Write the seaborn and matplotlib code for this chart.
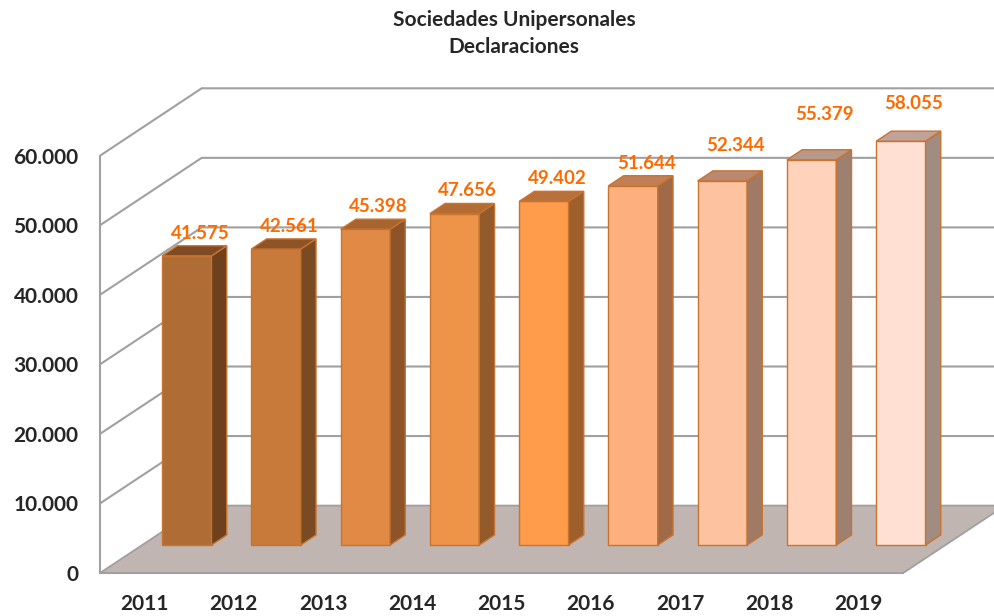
import numpy as np
import seaborn as sns
import matplotlib
matplotlib.use("Agg")
from matplotlib import pyplot as plt
from matplotlib.patches import Polygon

years = ["2011", "2012", "2013", "2014", "2015", "2016", "2017", "2018", "2019"]
declaraciones = [41575, 42561, 45398, 47656, 49402, 51644, 52344, 55379, 58055]
y_ticks = [0, 10000, 20000, 30000, 40000, 50000, 60000]
y_labels = ["0", "10.000", "20.000", "30.000", "40.000", "50.000", "60.000"]

front_colors = ["#b06c35", "#c87a3a", "#e08a45", "#ee9448", "#ff9c4c",
                "#fdb07e", "#fdc3a0", "#ffd3bb", "#ffe0d2"]
side_colors = ["#6e401e", "#7a4a22", "#8c5428", "#935a2a", "#9e5f2c",
               "#a06a48", "#a07a64", "#9e8070", "#a08c80"]
top_colors = ["#7e4b24", "#8e5428", "#a8642e", "#b36c32", "#b8713a",
              "#c07f55", "#b88870", "#b89888", "#c0a298"]
# extra lift (points) of some value labels, as placed in the original
label_lift = [0, 0, 0, 0, 0, 0, 9, 16, 11]

sns.set_style("white")
plt.rcParams["font.family"] = ["Lato", "DejaVu Sans"]

# faux 3D: depth offsets of the back wall in data units
DX = 101.7 / 89.25
DY = 67.4 / 0.006955
f_front = 0.415   # depth of bar front face
d_bar = 0.15      # bar depth
grid_c = "#a0a0a0"

fig = plt.figure(figsize=(9.95, 6.16), dpi=100)
ax = fig.add_axes([100 / 995, (616 - 573) / 616, 895 / 995, (573 - 60) / 616])

sns.barplot(x=years, y=declaraciones, hue=years, palette=front_colors, legend=False,
            width=0.553, saturation=1, edgecolor="#c8732f", linewidth=1, ax=ax, zorder=3)
bars = sorted(ax.patches, key=lambda p: p.get_x())

ax.set_xlim(-0.5, -0.5 + 895 / 89.25)
ax.set_ylim(0, (573 - 60) / 0.006955)
xmax = ax.get_xlim()[1]

# floor
ax.add_patch(Polygon([(-0.5, 0), (8.5, 0), (8.5 + DX, DY), (-0.5 + DX, DY)],
                     closed=True, facecolor="#c0b5b1", edgecolor=grid_c, lw=1.3, zorder=1))
# walls grid
for v in y_ticks[1:]:
    ax.plot([-0.5, -0.5 + DX, xmax], [v, v + DY, v + DY], color=grid_c, lw=1.5, zorder=1.5)

for i, p in enumerate(bars):
    x0 = p.get_x() + f_front * DX
    y0 = f_front * DY
    w = p.get_width()
    h = p.get_height()
    p.set_x(x0)
    p.set_y(y0)
    ddx, ddy = d_bar * DX, d_bar * DY
    side = [(x0 + w, y0), (x0 + w + ddx, y0 + ddy), (x0 + w + ddx, y0 + h + ddy), (x0 + w, y0 + h)]
    top = [(x0, y0 + h), (x0 + w, y0 + h), (x0 + w + ddx, y0 + h + ddy), (x0 + ddx, y0 + h + ddy)]
    ax.add_patch(Polygon(side, closed=True, facecolor=side_colors[i], edgecolor="#c8732f", lw=1, zorder=3))
    ax.add_patch(Polygon(top, closed=True, facecolor=top_colors[i], edgecolor="#c8732f", lw=1, zorder=3))
    lbl = f"{declaraciones[i]:,}".replace(",", ".")
    ax.annotate(lbl, (x0 + w / 2 + ddx / 2, y0 + h + ddy), xytext=(4, 3 + label_lift[i]),
                textcoords="offset points", ha="center", va="bottom", color="#ff6a00",
                fontsize=13.5, fontweight="bold", zorder=4)

sns.despine(ax=ax, top=True, right=True)
ax.spines["left"].set_color(grid_c)
ax.spines["left"].set_linewidth(1.5)
ax.spines["left"].set_bounds(0, 60000)
ax.spines["bottom"].set_color(grid_c)
ax.spines["bottom"].set_linewidth(1.5)
ax.spines["bottom"].set_bounds(-0.5, 8.5)

ax.set_yticks(y_ticks)
ax.set_yticklabels(y_labels, fontsize=15, fontweight="bold")
ax.tick_params(axis="y", length=5.5, color=grid_c, width=1.2, pad=10)
ax.set_xticks(range(len(years)))
ax.set_xticklabels(years, fontsize=15, fontweight="bold")
ax.set_xticks(np.arange(-0.5, 9, 1), minor=True)
ax.tick_params(axis="x", which="major", length=0, pad=15)
ax.tick_params(axis="x", which="minor", length=5.5, color=grid_c, width=1.2)
ax.set_xlabel("")
ax.set_ylabel("")

fig.text(514 / 995, 1 - 20 / 616, "Sociedades Unipersonales", ha="center", va="center",
         fontsize=15, fontweight="bold")
fig.text(514 / 995, 1 - 47 / 616, "Declaraciones", ha="center", va="center",
         fontsize=15, fontweight="bold")

fig.savefig("out.png", dpi=100)
plt.close(fig)
